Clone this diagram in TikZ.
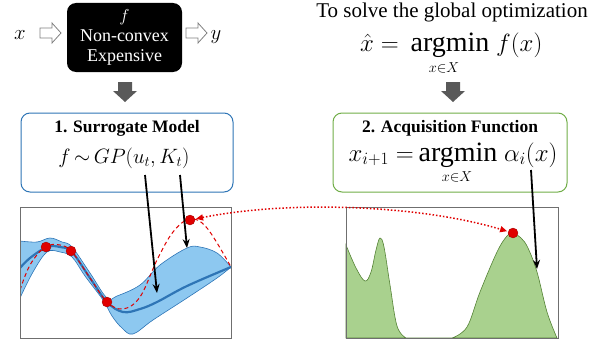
\documentclass[tikz,border=0pt]{standalone}
\usepackage{fontspec}
\setmainfont{Liberation Serif}
\usetikzlibrary{arrows.meta}
\definecolor{gpblue}{HTML}{2E75B6}
\definecolor{bandblue}{HTML}{8DC8F0}
\definecolor{acqgreen}{HTML}{70AD47}
\definecolor{acqfill}{HTML}{A9D18E}
\definecolor{darkgreen}{HTML}{548235}
\definecolor{arrowgray}{HTML}{595959}
\definecolor{framegray}{HTML}{6F6F6F}
\definecolor{dotred}{HTML}{E00000}
\begin{document}
\begin{tikzpicture}[x=1pt,y=-1pt,
  dnarrow/.pic={\fill[arrowgray] (-7,0) -- (7,0) -- (7,9) -- (12,9) -- (0,20) -- (-12,9) -- (-7,9) -- cycle;},
  hollowarrow/.pic={\draw[gray,fill=white,line width=0.8pt] (0,-5) -- (12,-5) -- (12,-10) -- (21,0) -- (12,10) -- (12,5) -- (0,5) -- cycle;},
  titlebox/.style={rounded corners=9pt,line width=1pt,minimum width=212pt,minimum height=79pt},
  frame/.style={draw=framegray,line width=0.9pt},
  dot/.style={circle,fill=dotred,draw=red!60!black,line width=0.3pt,inner sep=0pt,minimum size=10pt},
  pointer/.style={line width=1.8pt,-{Stealth[length=9pt,width=7pt]}},
  bigmath/.style={font=\fontsize{22.5}{25}\selectfont,inner sep=0pt},
  hugemath/.style={font=\fontsize{26.5}{28}\selectfont,inner sep=0pt},
  submath/.style={font=\fontsize{15}{17}\selectfont,inner sep=0pt},
  boxtitle/.style={font=\fontsize{17.5}{19}\selectfont\bfseries,inner sep=0pt}
]
\useasboundingbox (0,0) rectangle (615,345);

% ---- top left: function block
\node[bigmath,anchor=base] (xin) at (20,40) {$x$};
\pic at (40,33) {hollowarrow};
\node[fill=black,rounded corners=9pt,minimum width=115pt,minimum height=69pt,text=white,align=center,
  font=\fontsize{18}{20}\selectfont] (fbox) at (124.5,37.5) {$f$\\Non-convex\\Expensive};
\pic at (186,33) {hollowarrow};
\node[bigmath,anchor=base] (yout) at (216,40) {$y$};
\pic at (125,82) {dnarrow};

% ---- top right: goal
\node[font=\fontsize{21}{23}\selectfont,anchor=base,inner sep=0pt] (goal) at (452,18) {To solve the global optimization};
\node[hugemath,font=\fontsize{28}{29}\selectfont,anchor=base] (am1) at (450,52) {argmin};
\node[hugemath,anchor=base east] (xhat) at (399,52) {$\hat{x} =$};
\node[hugemath,anchor=base west] (fx) at (496,52) {$f(x)$};
\node[submath,anchor=base] (sub1) at (444,72) {$x{\in}X$};
\pic at (453,82) {dnarrow};

% ---- boxes
\node[titlebox,draw=gpblue] (sm) at (127,152.5) {};
\node[boxtitle,anchor=base] (smt) at (127,132) {1. Surrogate Model};
\node[bigmath,anchor=base] (smf) at (124,163) {$f\,{\sim}\,GP(u_t,K_t)$};

\node[titlebox,draw=acqgreen,minimum width=234pt] (af) at (450,152.5) {};
\node[boxtitle,anchor=base] (aft) at (450,132) {2. Acquisition Function};
\node[hugemath,font=\fontsize{28}{29}\selectfont,anchor=base] (am2) at (458,161) {argmin};
\node[hugemath,anchor=base east] (lhs2) at (414,161) {$x_{i+1} =$};
\node[hugemath,anchor=base west] (rhs2) at (504,161) {$\alpha_i(x)$};
\node[submath,anchor=base] (sub2) at (457,181) {$x{\in}X$};

% ---- left plot
\begin{scope}
\clip (20,207) rectangle (231,338);
\fill[bandblue] plot[smooth,tension=0.6] coordinates {(20,241) (37,242) (50,238) (62,242) (72,247) (90,273) (107,298) (117,296) (140,285) (160,265) (187,248) (200,247) (217,253) (231,267)}
  -- plot[smooth,tension=0.6] coordinates {(231,267) (217,278) (187,298) (153,320) (133,334) (122,328) (112,316) (103,300) (85,276) (72,257) (60,252) (47,252) (33,272) (20,298)} -- cycle;
\draw[gpblue,line width=0.6pt] plot[smooth,tension=0.6] coordinates {(20,241) (37,242) (50,238) (62,242) (72,247) (90,273) (107,298) (117,296) (140,285) (160,265) (187,248) (200,247) (217,253) (231,267)};
\draw[gpblue,line width=0.6pt] plot[smooth,tension=0.6] coordinates {(231,267) (217,278) (187,298) (153,320) (133,334) (122,328) (112,316) (103,300) (85,276) (72,257) (60,252) (47,252) (33,272) (20,298)};
\draw[gpblue,line width=2.2pt] plot[smooth,tension=0.6] coordinates {(20,268) (30,258) (47,247) (60,247) (72,252) (90,278) (107,302) (123,312) (140,309) (157,302) (187,286) (231,267)};
\draw[dotred,dashed,line width=1pt,dash pattern=on 4pt off 3pt] plot[smooth,tension=0.6] coordinates {(20,290) (30,265) (45,247) (60,245) (72,252) (90,278) (107,302) (123,309) (140,297) (157,260) (173,232) (190,219) (207,228) (231,267)};
\end{scope}
\draw[frame] (20,207) rectangle (231,338);
\node[dot] (p1) at (46,247) {};
\node[dot] (p2) at (71,251) {};
\node[dot] (p3) at (107,302) {};
\node[dot] (p4) at (190,220) {};

% ---- right plot
\filldraw[fill=acqfill,draw=darkgreen,line width=0.6pt] (346,338) -- plot[smooth,tension=0.6] coordinates {(346,245) (356,268) (365,281) (371,272) (376,250) (380,238) (384,247) (390,285) (397,326) (406,338)} -- (452,338)
  -- plot[smooth,tension=0.6] coordinates {(452,338) (467,327) (480,292) (497,252) (507,236) (513,233) (521,238) (528,248) (537,272) (547,312) (557,338)} -- cycle;
\draw[frame] (346,207) rectangle (558,338);
\node[dot] (q) at (513,233) {};

% ---- connectors
\coordinate (a1s) at (145,175); \coordinate (a1e) at (157,293);
\coordinate (a2s) at (180,175); \coordinate (a2e) at (187,248);
\coordinate (a3s) at (531,170); \coordinate (a3e) at (537,269);
\draw[pointer] (a1s) -- (a1e);
\draw[pointer] (a2s) -- (a2e);
\draw[pointer] (a3s) -- (a3e);
\draw[dotred,line width=1.5pt,dotted,{Triangle[length=7pt,width=6pt]}-{Triangle[length=7pt,width=6pt]},shorten <=1pt,shorten >=1pt]
  (p4) .. controls (290,200) and (420,205) .. (q);
\end{tikzpicture}
\end{document}
